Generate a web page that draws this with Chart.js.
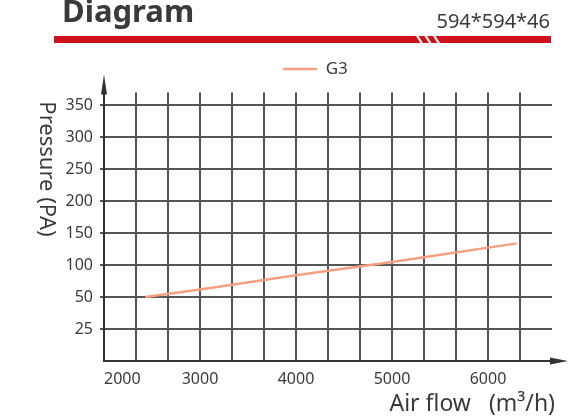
<!DOCTYPE html>
<html>
<head>
<meta charset="utf-8">
<script src="https://cdn.jsdelivr.net/npm/chart.js@4.4.1/dist/chart.umd.min.js"></script>
<style>
    html, body { margin: 0; padding: 0; background: #fff; }
    #contenedor { position: relative; width: 579px; height: 417px; }
</style>
</head>
<body>
<div id="contenedor"><canvas id="grafico"></canvas></div>
<script>
// DATOS:
const caudal = [2430, 3000, 4000, 5000, 6300];      // m³/h
const presionG3 = [50, 62, 84, 105, 134];           // Pa
const marcasPresion = [25, 50, 100, 150, 200, 250, 300, 350];
const marcasCaudal = [2000, 3000, 4000, 5000, 6000];

const FUENTE = "'Noto Sans', sans-serif";
const COLOR_LINEA = "#f4a081";
const COLOR_REJILLA = "#555";
const COLOR_TEXTO = "#3a3a3a";

// El eje de presión no es lineal: 0-50 va de 25 en 25, luego de 50 en 50
function filaDePresion(p) {
    return p <= 50 ? p / 25 : 2 + (p - 50) / 50;
}
function presionDeFila(f) {
    return f <= 2 ? f * 25 : 50 + (f - 2) * 50;
}

class EscalaPresion extends Chart.LinearScale {
    getPixelForValue(value) {
        const f0 = filaDePresion(this.min);
        const f1 = filaDePresion(this.max);
        return this.getPixelForDecimal((filaDePresion(value) - f0) / (f1 - f0));
    }
    getValueForPixel(pixel) {
        const f0 = filaDePresion(this.min);
        const f1 = filaDePresion(this.max);
        return presionDeFila(f0 + this.getDecimalForPixel(pixel) * (f1 - f0));
    }
    // sin recorte: las etiquetas salen del hueco estrecho del eje
    _computeLabelArea() {
        return undefined;
    }
}
EscalaPresion.id = "presion";
EscalaPresion.defaults = Chart.LinearScale.defaults;
Chart.register(EscalaPresion);

// Cabecera, flechas de los ejes y títulos de los ejes
const decoracion = {
    id: "decoracion",
    afterDraw(chart) {
        const ctx = chart.ctx;
        const area = chart.chartArea;
        ctx.save();

        // cabecera
        ctx.fillStyle = COLOR_TEXTO;
        ctx.font = "bold 31px " + FUENTE;
        ctx.textBaseline = "alphabetic";
        ctx.textAlign = "left";
        ctx.fillText("Diagram", 62, 22);
        ctx.font = "20px " + FUENTE;
        ctx.textAlign = "right";
        ctx.fillText("594*594*46", 550, 28);

        ctx.fillStyle = "#cf111b";
        ctx.fillRect(54, 36, 497, 7);
        ctx.fillStyle = "#fff";
        [416, 424.5, 433].forEach(x => {
            ctx.beginPath();
            ctx.moveTo(x, 36);
            ctx.lineTo(x + 2.5, 36);
            ctx.lineTo(x + 7, 43);
            ctx.lineTo(x + 4.5, 43);
            ctx.closePath();
            ctx.fill();
        });

        // ejes con flecha
        const x0 = area.left;
        const y0 = area.bottom;
        ctx.strokeStyle = "#333";
        ctx.fillStyle = "#333";
        ctx.lineWidth = 2;
        ctx.beginPath();
        ctx.moveTo(x0, y0 + 1);
        ctx.lineTo(x0, area.top - 4);
        ctx.moveTo(x0 - 1, y0);
        ctx.lineTo(area.right + 2, y0);
        ctx.stroke();

        ctx.beginPath();
        ctx.moveTo(x0, area.top - 18);
        ctx.lineTo(x0 + 3, area.top + 2);
        ctx.lineTo(x0 - 3, area.top + 2);
        ctx.closePath();
        ctx.fill();

        ctx.beginPath();
        ctx.moveTo(area.right + 16, y0);
        ctx.lineTo(area.right - 2, y0 - 3.5);
        ctx.lineTo(area.right - 2, y0 + 3.5);
        ctx.closePath();
        ctx.fill();

        // títulos
        ctx.fillStyle = COLOR_TEXTO;
        ctx.font = "23px " + FUENTE;
        ctx.textAlign = "right";
        ctx.textBaseline = "alphabetic";
        ctx.fillText("Air flow   (m³/h)", 555, 411);

        ctx.font = "22px " + FUENTE;
        ctx.translate(46, 169);
        ctx.rotate(Math.PI / 2);
        ctx.textAlign = "center";
        ctx.textBaseline = "middle";
        ctx.fillText("Pressure (PA)", 0, 0);

        ctx.restore();
    }
};

const puntos = caudal.map((c, i) => ({ x: c, y: presionG3[i] }));

new Chart(document.getElementById("grafico"), {
    type: "line",
    data: {
        datasets: [{
            label: "G3",
            data: puntos,
            borderColor: COLOR_LINEA,
            backgroundColor: COLOR_LINEA,
            borderWidth: 2.5,
            pointRadius: 0,
            tension: 0
        }]
    },
    options: {
        responsive: true,
        maintainAspectRatio: false,
        animation: false,
        events: [],
        layout: {
            padding: { top: 50, left: 79, right: 27, bottom: 0 }
        },
        scales: {
            x: {
                type: "linear",
                min: 2000,
                max: 2000 + 14000 / 3,
                afterBuildTicks(scale) {
                    const ticks = [];
                    for (let k = 0; k <= 14; k++) ticks.push({ value: 2000 + k * 1000 / 3 });
                    scale.ticks = ticks;
                },
                afterFit(scale) { scale.height = 56; },
                border: { display: false },
                grid: {
                    drawTicks: false,
                    lineWidth: 2,
                    color: c => (c.index === 0 || c.index === 14) ? "rgba(0,0,0,0)" : COLOR_REJILLA
                },
                ticks: {
                    autoSkip: false,
                    maxRotation: 0,
                    align: "inner",
                    padding: 9,
                    color: COLOR_TEXTO,
                    font: { family: FUENTE, size: 16 },
                    callback: v => {
                        const m = marcasCaudal.find(t => Math.abs(t - v) < 1e-6);
                        return m === undefined ? "" : String(m);
                    }
                }
            },
            y: {
                type: "presion",
                min: 0,
                max: 370,
                afterBuildTicks(scale) {
                    scale.ticks = marcasPresion.map(v => ({ value: v }));
                },
                afterFit(scale) { scale.width = 25; },
                border: { display: false },
                grid: {
                    lineWidth: 2,
                    tickLength: 4,
                    color: COLOR_REJILLA
                },
                ticks: {
                    autoSkip: false,
                    padding: 7,
                    color: COLOR_TEXTO,
                    font: { family: FUENTE, size: 16 },
                    callback: v => String(v)
                }
            }
        },
        plugins: {
            legend: {
                position: "top",
                labels: {
                    usePointStyle: true,
                    pointStyle: "line",
                    pointStyleWidth: 34,
                    padding: 10.5,
                    color: COLOR_TEXTO,
                    font: { family: FUENTE, size: 17 }
                }
            },
            // separador vacío entre la leyenda y la rejilla
            subtitle: {
                display: true,
                text: "",
                weight: 500,
                font: { size: 1, lineHeight: 1 },
                padding: { top: 0, bottom: 4 }
            },
            tooltip: { enabled: false }
        }
    },
    plugins: [decoracion]
});
</script>
</body>
</html>
